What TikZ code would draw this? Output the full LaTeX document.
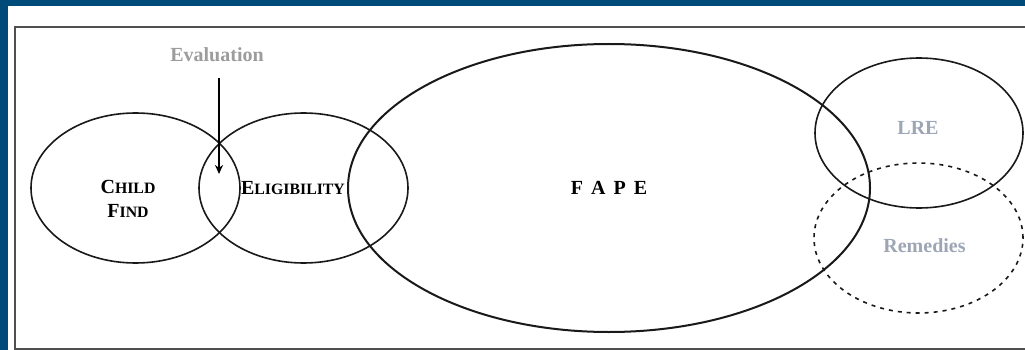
\documentclass[tikz,border=0pt]{standalone}
\usepackage{fontspec}
\setmainfont{Liberation Serif}
\usetikzlibrary{shapes.geometric,arrows.meta}
\definecolor{frameblue}{HTML}{004A7A}
\definecolor{framegray}{HTML}{505050}
\definecolor{evalgray}{HTML}{9C9C9E}
\definecolor{softblue}{HTML}{9EA6B6}
\newcommand{\scap}[2]{{\fontsize{20}{24}\selectfont #1}{\fontsize{15.8}{24}\selectfont #2}}
\begin{document}
\begin{tikzpicture}[x=1pt,y=-1pt,
  venn/.style={draw=black!90,ellipse,line width=1.6pt,inner sep=0pt},
  lbl/.style={font=\bfseries\fontsize{20}{24}\selectfont,inner sep=0pt,anchor=base},
  graylbl/.style={lbl,text=evalgray},
  bluelbl/.style={lbl,text=softblue}]
\useasboundingbox (0,0) rectangle (1025,350);
\fill[frameblue] (0,0) rectangle (1025,350);
\fill[white] (8,6) rectangle (1025,350);
\draw[framegray,line width=2pt] (1025,27) -- (15,27) -- (15,349) -- (1025,349);

\node[venn,minimum width=209pt,minimum height=150pt] (child) at (135.5,188) {};
\node[venn,minimum width=209pt,minimum height=150pt] (elig) at (303.5,188) {};
\node[venn,line width=2pt,minimum width=522pt,minimum height=288pt] (fape) at (609,188) {};
\node[venn,minimum width=208pt,minimum height=150pt] (lre) at (919,133) {};
\node[venn,dashed,dash pattern=on 4pt off 5pt,minimum width=209pt,minimum height=150pt] (rem) at (918.5,238) {};

\node[font=\bfseries\fontsize{20}{24}\selectfont,inner sep=0pt,align=center] (childlbl) at (128,199) {\scap{C}{HILD}\\\scap{F}{IND}};
\node[lbl] (eliglbl) at (293,194) {\scap{E}{LIGIBILITY}};
\node[lbl] (fapelbl) at (609,194) {F\hspace{8pt}A\hspace{8pt}P\hspace{8pt}E};
\node[bluelbl] (lrelbl) at (918,135) {LRE};
\node[bluelbl] (remlbl) at (924.5,252) {Remedies};
\node[graylbl] (evallbl) at (217,61.5) {Evaluation};

\coordinate (arrtop) at (219,78);
\coordinate (arrtip) at (219,174);
\draw[line width=2.6pt,-{Stealth[length=9pt,width=8pt]}] (arrtop) -- (arrtip);
\end{tikzpicture}
\end{document}
